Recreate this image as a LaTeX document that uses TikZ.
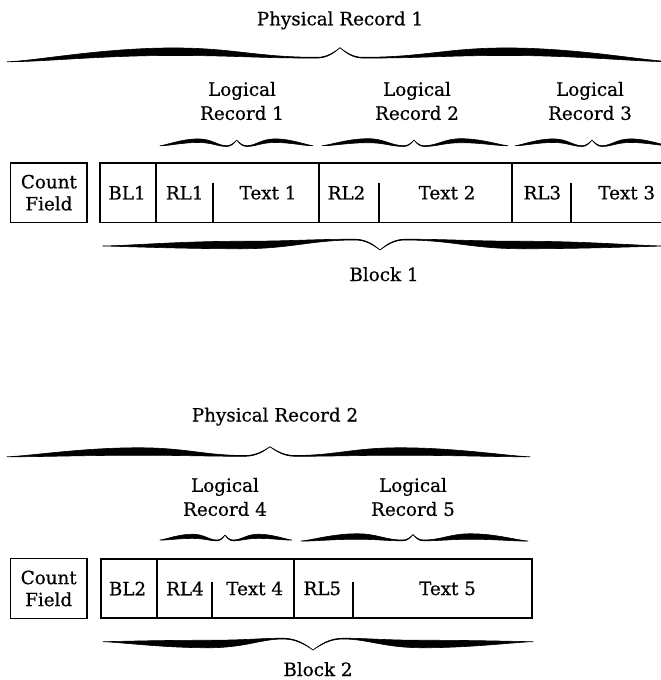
\documentclass[tikz,border=0pt]{standalone}
\usepackage{fontspec}
\setmainfont[FakeBold=0.6]{DejaVu Serif}
% #1 tip x, #2 level y, #3 signed half length, #4 flip, #5 tip height, #6 thick offset, #7 thickness, #8 end offset, #9 signed tip width
\newcommand\bracehalf[9]{%
  \begin{scope}[shift={(#1,#2)}, yscale=#4]
    \filldraw[bracefill] (0,{-(#5)})
      .. controls ({0.25*(#9)},{-0.55*(#5)}) and ({0.55*(#9)},0) .. ({#9},0)
      .. controls ({0.25*(#3)},0) and ({0.32*(#3)},{-(#6)-(#7)/2}) .. ({0.5*(#3)},{-(#6)-(#7)/2})
      .. controls ({0.72*(#3)},{-(#6)-(#7)/2}) and ({0.92*(#3)},{(#8)-0.4}) .. ({#3},{#8})
      .. controls ({0.9*(#3)},{(#8)+0.4}) and ({0.72*(#3)},{-(#6)+(#7)/2}) .. ({0.5*(#3)},{-(#6)+(#7)/2})
      .. controls ({0.32*(#3)},{-(#6)+(#7)/2}) and ({0.25*(#3)},0.8) .. ({#9},0.8)
      .. controls ({0.55*(#9)},0.8) and ({0.25*(#9)},{-0.55*(#5)+0.7}) .. (0,{-(#5)}) -- cycle;
  \end{scope}}
\begin{document}
\begin{tikzpicture}[x=1pt,y=-1pt,
  lbl/.style={font=\fontsize{18.3}{24}\selectfont, inner sep=0pt, align=center},
  cfbox/.style={draw, line width=1.3pt, font=\fontsize{18.3}{22}\selectfont, align=center,
                inner sep=0pt, minimum width=76.3pt, minimum height=59.5pt},
  boxline/.style={line width=1.3pt},
  bracefill/.style={fill=black, draw=black, line width=0.6pt, line join=round}]
\useasboundingbox (0,0) rectangle (661,680);
\begin{scope}
\clip (0,0) rectangle (661,680);
% ---------- upper record ----------
\bracehalf{340}{57.3}{-333}{1}{9.6}{5.6}{7.5}{4.4}{-23}
\bracehalf{340}{57.3}{333}{1}{9.6}{5.6}{7.5}{4.4}{23}
\bracehalf{236.7}{145.7}{-76.7}{1}{5.7}{5}{3.6}{0}{-10}
\bracehalf{236.7}{145.7}{76.3}{1}{5.7}{5}{3.6}{0}{10}
\bracehalf{414}{145.7}{-92}{1}{5.7}{5}{4}{0}{-10}
\bracehalf{414}{145.7}{94}{1}{5.7}{5}{4}{0}{10}
\bracehalf{592}{145.7}{-77}{1}{5.7}{5}{3.6}{0}{-10}
\bracehalf{592}{145.7}{77}{1}{5.7}{5}{3.6}{0}{10}
\bracehalf{380}{240}{-277.3}{-1}{10}{5}{7.5}{-6}{-25}
\bracehalf{380}{240}{285}{-1}{10}{5}{7.5}{-6}{25}
\draw[boxline] (680,163) -- (100,163) -- (100,222.5) -- (680,222.5);
\draw[boxline] (156,163) -- (156,222.5);
\draw[boxline] (319,163) -- (319,222.5);
\draw[boxline] (512,163) -- (512,222.5);
\draw[boxline] (213,183) -- (213,222.5);
\draw[boxline] (379,183) -- (379,222.5);
\draw[boxline] (571,183) -- (571,222.5);
% ---------- lower record ----------
\bracehalf{270}{455.5}{-263}{1}{8.8}{4}{7.5}{1.2}{-25}
\bracehalf{270}{455.5}{260}{1}{8.8}{4}{7.5}{1.2}{25}
\bracehalf{225}{540}{-65}{1}{5}{3.7}{4.2}{0}{-8}
\bracehalf{225}{540}{66.7}{1}{5}{3.7}{4.2}{0}{8}
\bracehalf{413}{540}{-112}{1}{5.5}{3.5}{5.5}{1}{-10}
\bracehalf{413}{540}{115}{1}{5.5}{3.5}{5.5}{1}{10}
\bracehalf{313}{639}{-210}{-1}{11}{5}{7.5}{-2.7}{-30}
\bracehalf{313}{639}{220}{-1}{11}{5}{7.5}{-2.7}{30}
\draw[boxline] (101,559) rectangle (532,618);
\draw[boxline] (157,559) -- (157,618);
\draw[boxline] (294,559) -- (294,618);
\draw[boxline] (212,582) -- (212,618);
\draw[boxline] (353,582) -- (353,618);
\end{scope}
% ---------- texts ----------
\node[lbl, anchor=base] (pr1) at (340,25.3) {Physical Record 1};
\node[lbl] (lr1) at (242,101) {Logical\\Record 1};
\node[lbl] (lr2) at (417,101) {Logical\\Record 2};
\node[lbl] (lr3) at (590,101) {Logical\\Record 3};
\node[cfbox] (cf1) at (48.9,192.7) {Count\\Field};
\node[lbl] (bl1) at (127,192.7) {BL1};
\node[lbl] (rl1) at (184.7,192.7) {RL1};
\node[lbl] (tx1) at (268,192.7) {Text 1};
\node[lbl] (rl2) at (346.5,192.7) {RL2};
\node[lbl] (tx2) at (447,192.7) {Text 2};
\node[lbl] (rl3) at (542.3,192.7) {RL3};
\node[lbl] (tx3) at (626.7,192.7) {Text 3};
\node[lbl, anchor=base] (blk1) at (384,281) {Block 1};
\node[lbl, anchor=base] (pr2) at (275,421.5) {Physical Record 2};
\node[lbl] (lr4) at (225,497) {Logical\\Record 4};
\node[lbl] (lr5) at (413,497) {Logical\\Record 5};
\node[cfbox] (cf2) at (48.7,588.5) {Count\\Field};
\node[lbl] (bl2) at (127.5,588.5) {BL2};
\node[lbl] (rl4) at (185,588.5) {RL4};
\node[lbl] (tx4) at (254.7,588.5) {Text 4};
\node[lbl] (rl5) at (322.3,588.5) {RL5};
\node[lbl] (tx5) at (447.5,588.5) {Text 5};
\node[lbl, anchor=base] (blk2) at (318,676) {Block 2};
\end{tikzpicture}
\end{document}
